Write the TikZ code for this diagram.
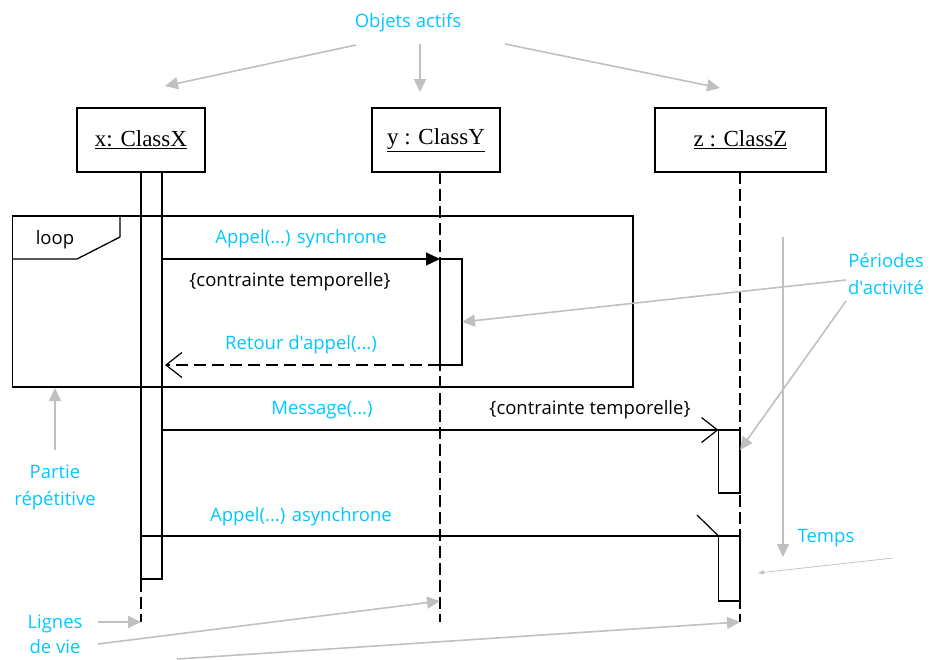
\documentclass[tikz,border=0pt]{standalone}
\usepackage{fontspec}
\setmainfont{Liberation Serif}
\newfontfamily\notefont{Open Sans}
\usetikzlibrary{arrows.meta}
\definecolor{notecyan}{RGB}{0,200,255}
\definecolor{notegrey}{RGB}{192,192,192}
\begin{document}
\begin{tikzpicture}[x=1pt,y=-1pt,
  objbox/.style={draw, line width=1.3pt, minimum height=64pt, inner sep=0pt,
    font=\fontsize{23}{25}\selectfont},
  lifeline/.style={line width=1.2pt, dash pattern=on 12pt off 5pt},
  actbar/.style={draw, line width=1.2pt},
  frame/.style={draw, line width=1.3pt},
  msg/.style={line width=1.2pt},
  syncmsg/.style={msg, -{Triangle[length=14pt,width=13pt]}},
  openmsg/.style={msg, -{Straight Barb[length=16pt,width=25pt]}},
  retmsg/.style={openmsg, dash pattern=on 12pt off 6pt},
  note/.style={text=notecyan, font=\notefont\fontsize{18.5}{27}\selectfont, align=center, inner sep=0pt},
  constraint/.style={text=black, font=\notefont\fontsize{18.5}{20}\selectfont, inner sep=0pt},
  pointer/.style={draw=notegrey, line width=1.6pt, -{Triangle[length=13pt,width=12pt]}},
  thinpointer/.style={draw=notegrey, line width=0.7pt, -{Triangle[length=6pt,width=4pt]}}
]
\useasboundingbox (0,0) rectangle (932,659);

% objects
\node[objbox, minimum width=128pt] (ox) at (141,140) {\underline{x: ClassX}};
\node[objbox, minimum width=128pt] (oy) at (436,140) {\underline{y : ClassY}};
\node[objbox, minimum width=171pt] (oz) at (740.5,140) {\underline{z : ClassZ}};

% lifeline anchors
\coordinate (xtop) at (141,172);  \coordinate (xend) at (141,622);
\coordinate (ytop) at (440,172);  \coordinate (yend) at (440,622);
\coordinate (ztop) at (740,172);  \coordinate (zend) at (740,622);

\draw[lifeline] (xtop) -- (xend);
\draw[lifeline] (ytop) -- (yend);
\draw[lifeline] (ztop) -- (zend);

% activation bars
\coordinate (yact) at (462,322);
\coordinate (zact) at (740,450);
\draw[actbar] (141,172) rectangle (162,579);
\draw[actbar] (440,259) rectangle (462,365);
\draw[actbar] (718.5,430) rectangle (740,493);
\draw[actbar] (718.5,536) rectangle (740,601);

% loop fragment
\coordinate (loopbottom) at (55,388);
\draw[frame] (12.5,216) rectangle (633,387);
\draw[frame] (12.5,259) -- (77,259) -- (120,237) -- (120,216);
\node[constraint] (looplbl) at (55,240) {loop};

% messages
\coordinate (s1) at (162,259);   \coordinate (t1) at (440,259);
\coordinate (s2) at (440,365);   \coordinate (t2) at (165,365);
\coordinate (s3) at (162,430);   \coordinate (t3) at (718.5,430);
\coordinate (s4) at (141,536);   \coordinate (t4) at (740,536);
\coordinate (h4) at (718.5,536); \coordinate (b4) at (697,515);

\draw[syncmsg] (s1) -- (t1);
\draw[retmsg] (s2) -- (t2);
\draw[openmsg] (s3) -- (t3);
\draw[msg] (s4) -- (t4);
\draw[msg] (h4) -- (b4);

\node[note] (lsync) at (301,239) {Appel(...) synchrone};
\node[constraint] (c1) at (290,282) {\{contrainte temporelle\}};
\node[note] (lret) at (301,345) {Retour d'appel(...)};
\node[note] (lmsg) at (322,410) {Message(...)};
\node[constraint] (c2) at (590,410) {\{contrainte temporelle\}};
\node[note] (lasync) at (301,517) {Appel(...) asynchrone};

% annotations: active objects
\node[note] (objets) at (408,23) {Objets actifs};
\coordinate (ax) at (165,86);
\coordinate (ay) at (420,92);
\coordinate (az) at (720,88);
\draw[pointer] (356,45) -- (ax);
\draw[pointer] (420,44) -- (ay);
\draw[pointer] (505,44) -- (az);

% annotations: repeated part
\node[note] (partie) at (55,487) {Partie\\répétitive};
\draw[pointer] (55,450) -- (loopbottom);

% annotations: activity periods
\node[note] (periodes) at (886,274) {Périodes\\d'activité};
\draw[pointer] (846,280) -- (yact);
\draw[pointer] (846,301) -- (zact);

% annotations: time
\coordinate (tstart) at (783,237);
\coordinate (tstop) at (783,557);
\draw[pointer] (tstart) -- (tstop);
\node[note] (temps) at (826,538) {Temps};
\coordinate (tmark) at (758,573);
\draw[thinpointer] (893,558) -- (tmark);

% annotations: lifelines
\node[note, font=\notefont\fontsize{18.5}{25}\selectfont] (lignes) at (55,634) {Lignes\\de vie};
\coordinate (ly) at (440,601);
\draw[pointer] (98,622) -- (xend);
\draw[pointer] (98,644) -- (ly);
\draw[pointer] (177,659) -- (zend);
\end{tikzpicture}
\end{document}
